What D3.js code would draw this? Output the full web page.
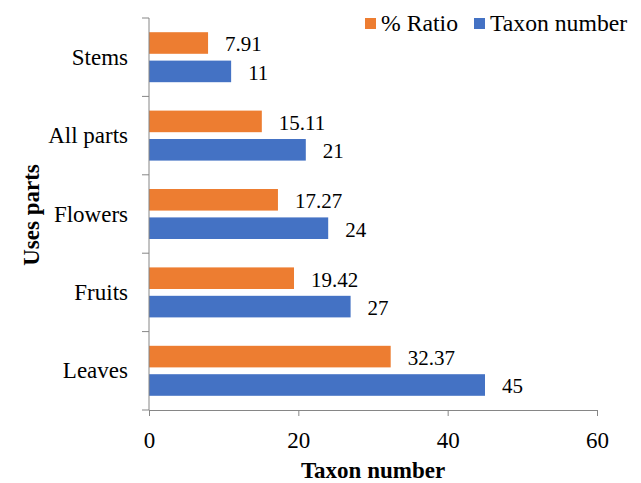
<!DOCTYPE html>
<html><head><meta charset="utf-8">
<script src="https://cdn.jsdelivr.net/npm/d3@7"></script>
</head><body style="margin:0;background:#fff">
<script>
const categories = ["Stems","All parts","Flowers","Fruits","Leaves"];
const ratio = [7.91,15.11,17.27,19.42,32.37];
const taxon = [11,21,24,27,45];
const xTicks = [0,20,40,60];
const seriesNames = ["% Ratio","Taxon number"];
const colors = ["#ED7D31","#4472C4"];

const FONT="Liberation Serif";
const W=641,H=483;
const svg=d3.select("body").append("svg").attr("width",W).attr("height",H).style("display","block");
const x=d3.scaleLinear().domain([0,60]).range([149,597]);
const y=d3.scaleBand().domain(categories).range([18,410]);
const inner=d3.scaleBand().domain([0,1]).range([0,y.bandwidth()]).paddingInner(0.24).paddingOuter(0.5);

const axisColor="#868686";
const series=[ratio,taxon];
series.forEach((vals,si)=>{
  const g=svg.append("g");
  g.selectAll("rect").data(categories).join("rect")
    .attr("x",x(0)).attr("y",d=>y(d)+inner(si))
    .attr("width",(d,i)=>x(vals[i])-x(0)).attr("height",inner.bandwidth())
    .attr("fill",colors[si]);
  g.selectAll("text").data(categories).join("text")
    .attr("x",(d,i)=>x(vals[i])+17).attr("y",d=>y(d)+inner(si)+inner.bandwidth()/2)
    .attr("dy","0.4em").attr("font-size",21).attr("font-family",FONT).text((d,i)=>vals[i]);
});
const xa=svg.append("g").attr("transform","translate(0,410)")
  .call(d3.axisBottom(x).tickValues(xTicks).tickSize(6).tickPadding(0).tickFormat(d3.format("d")));
xa.select(".domain").attr("stroke",axisColor);
xa.selectAll("line").attr("stroke",axisColor);
xa.selectAll("text").attr("font-size",23).attr("font-family",FONT).attr("y",38).attr("dy",null);
svg.append("line").attr("x1",149).attr("x2",149).attr("y1",18).attr("y2",410).attr("stroke",axisColor);
const yEdges=categories.map(c=>y(c)).concat([410]);
svg.selectAll(".ytick").data(yEdges).join("line").attr("class","ytick")
  .attr("x1",142).attr("x2",149).attr("y1",d=>d).attr("y2",d=>d).attr("stroke",axisColor);
svg.selectAll(".ylab").data(categories).join("text").attr("class","ylab")
  .attr("x",128).attr("y",d=>y(d)+y.bandwidth()/2).attr("dy","0.33em")
  .attr("text-anchor","end").attr("font-size",23).attr("font-family",FONT).text(d=>d);
svg.append("text").attr("x",373).attr("y",478).attr("text-anchor","middle").attr("font-family",FONT)
  .attr("font-size",23).attr("font-weight","bold").text("Taxon number");
svg.append("text").attr("transform","translate(38.5,215) rotate(-90)").attr("text-anchor","middle").attr("font-family",FONT)
  .attr("font-size",23).attr("font-weight","bold").text("Uses parts");
const lg=svg.append("g");
const lx=[365,474];
seriesNames.forEach((n,i)=>{
  lg.append("rect").attr("x",lx[i]).attr("y",18).attr("width",11).attr("height",11).attr("fill",colors[i]);
  lg.append("text").attr("x",lx[i]+16).attr("y",31).attr("font-size",23.7).attr("font-family",FONT).text(n);
});
</script>
</body></html>
